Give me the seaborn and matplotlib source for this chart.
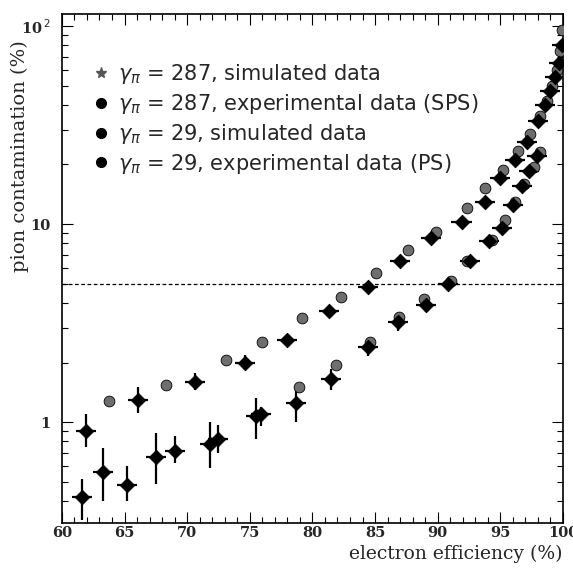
import numpy as np
import matplotlib
matplotlib.use('Agg')
import matplotlib.pyplot as plt
import seaborn as sns
from matplotlib.lines import Line2D
from matplotlib.ticker import FixedLocator, FixedFormatter, MultipleLocator, LogLocator, NullFormatter

# gamma = 287, simulated data
sim287_x = [63.8, 68.3, 73.1, 76.0, 79.2, 82.3, 85.1, 87.6, 89.9, 92.3, 93.8, 95.2, 96.4, 97.4, 98.2, 98.7, 99.1, 99.5, 99.8, 99.95]
sim287_y = [1.28, 1.55, 2.05, 2.55, 3.35, 4.3, 5.7, 7.4, 9.1, 12.0, 15.3, 18.7, 23.5, 28.5, 35, 42, 50, 60, 75, 95]

# gamma = 287, experimental data (SPS)
sps_x = [61.9, 66.1, 70.6, 74.6, 78.0, 81.3, 84.4, 87.0, 89.5, 91.9, 93.8, 95.0, 96.2, 97.1, 98.0, 98.6, 99.0, 99.4, 99.7, 99.9]
sps_y = [0.90, 1.30, 1.60, 2.0, 2.6, 3.65, 4.8, 6.5, 8.5, 10.2, 13.0, 17.0, 21, 26, 33, 40, 47, 55, 65, 80]
sps_lo = [0.75, 1.12, 1.45, 1.85, 2.45, 3.5, 4.6, 6.3, 8.3, 10.0, 12.7, 16.6, 20.5, 25.4, 32.3, 39.2, 46, 54, 64, 78]
sps_hi = [1.10, 1.50, 1.78, 2.18, 2.78, 3.82, 5.0, 6.7, 8.7, 10.4, 13.3, 17.4, 21.5, 26.6, 33.7, 40.8, 48, 56, 66, 82]

# gamma = 29, simulated data
sim29_x = [78.9, 81.9, 84.6, 86.9, 88.9, 91.1, 92.3, 94.3, 95.4, 96.2, 96.9, 97.7, 98.2]
sim29_y = [1.50, 1.95, 2.55, 3.40, 4.20, 5.15, 6.5, 8.3, 10.5, 13.0, 16.0, 19.5, 23.0]

# gamma = 29, experimental data (PS)
ps_x = [61.6, 63.3, 65.2, 67.5, 69.0, 71.8, 72.5, 75.5, 75.9, 78.7, 81.5, 84.4, 86.8, 89.1, 90.8, 92.6, 94.1, 95.1, 96.0, 96.7, 97.3, 97.9]
ps_y = [0.42, 0.56, 0.48, 0.67, 0.72, 0.78, 0.82, 1.07, 1.10, 1.25, 1.65, 2.40, 3.2, 3.9, 5.0, 6.5, 8.2, 9.6, 12.5, 15.5, 18.5, 22.0]
ps_lo = [0.32, 0.40, 0.40, 0.49, 0.62, 0.59, 0.70, 0.82, 0.96, 1.00, 1.45, 2.15, 2.9, 3.6, 4.7, 6.2, 7.9, 9.3, 12.1, 15.1, 18.1, 21.5]
ps_hi = [0.52, 0.74, 0.60, 0.88, 0.85, 1.00, 0.97, 1.33, 1.20, 1.43, 1.85, 2.65, 3.5, 4.2, 5.3, 6.8, 8.5, 9.9, 12.9, 15.9, 18.9, 22.5]

legend_labels = [r'$\gamma_\pi$ = 287, simulated data',
                 r'$\gamma_\pi$ = 287, experimental data (SPS)',
                 r'$\gamma_\pi$ = 29, simulated data',
                 r'$\gamma_\pi$ = 29, experimental data (PS)']
cut_level = 5

sns.set_style('ticks')
plt.rcParams['font.family'] = ['DejaVu Sans']
plt.rcParams['mathtext.fontset'] = 'dejavusans'

fig = plt.figure(figsize=(5.73, 5.71), dpi=100)
ax = fig.add_axes([0.108, 0.084, 0.8745, 0.8915])

# error bars of the measured data
for xs, ys, lo, hi in [(sps_x, sps_y, sps_lo, sps_hi), (ps_x, ps_y, ps_lo, ps_hi)]:
    ys_a = np.array(ys)
    yerr = [ys_a - np.array(lo), np.array(hi) - ys_a]
    ax.errorbar(xs, ys, yerr=yerr, xerr=0.8, fmt='none', ecolor='black', elinewidth=1.6, capsize=0, zorder=2)

# simulated points, grey
sns.scatterplot(x=sim287_x, y=sim287_y, ax=ax, marker='o', s=60, color='#6e6e6e', edgecolor='black', linewidth=0.6, zorder=3)
sns.scatterplot(x=sim29_x, y=sim29_y, ax=ax, marker='o', s=60, color='#6e6e6e', edgecolor='black', linewidth=0.6, zorder=3)
# measured points
sns.scatterplot(x=sps_x, y=sps_y, ax=ax, marker='D', s=55, color='black', edgecolor='black', zorder=4)
sns.scatterplot(x=ps_x, y=ps_y, ax=ax, marker='D', s=55, color='black', edgecolor='black', zorder=4)

ax.axhline(cut_level, color='black', linestyle=(0, (3, 2)), linewidth=0.9, zorder=1)

ax.set_yscale('log')
ax.set_xlim(60, 100)
ax.set_ylim(0.31, 115)

ax.xaxis.set_major_locator(MultipleLocator(5))
ax.xaxis.set_minor_locator(MultipleLocator(1))
ax.yaxis.set_major_locator(FixedLocator([1, 10, 100]))
ax.yaxis.set_major_formatter(FixedFormatter(['1', '10', r'10$^{\,2}$']))
ax.yaxis.set_minor_locator(LogLocator(base=10, subs=np.arange(2, 10)))
ax.yaxis.set_minor_formatter(NullFormatter())

ax.tick_params(which='both', direction='in', top=True, right=True, width=0.8, color='black')
ax.tick_params(which='major', length=8)
ax.tick_params(axis='y', which='major', pad=8)
ax.tick_params(axis='x', which='major', pad=2)
ax.tick_params(which='minor', length=4)
for lab in ax.get_xticklabels() + ax.get_yticklabels():
    lab.set_family(['DejaVu Serif'])
    lab.set_fontweight('bold')
    lab.set_fontsize(10.5)
for sp in ax.spines.values():
    sp.set_color('black')
    sp.set_linewidth(1.2)

ax.set_ylabel('pion contamination (%)', family=['DejaVu Serif'], fontsize=14)
ax.yaxis.set_label_coords(-0.066, 0.72)
ax.set_xlabel('electron efficiency (%)', family=['DejaVu Serif'], fontsize=13.5, ha='right')
ax.xaxis.set_label_coords(1.0, -0.042)

handles = [Line2D([], [], marker='*', linestyle='none', color='#555555', markersize=8),
           Line2D([], [], marker='o', linestyle='none', color='black', markersize=7),
           Line2D([], [], marker='o', linestyle='none', color='black', markersize=7),
           Line2D([], [], marker='o', linestyle='none', color='black', markersize=7)]
ax.legend(handles, legend_labels, loc='upper left', bbox_to_anchor=(0.025, 0.942), frameon=False,
          fontsize=15, handlelength=0.8, handletextpad=0.4, labelspacing=0.28)

fig.savefig('out.png', dpi=100)
